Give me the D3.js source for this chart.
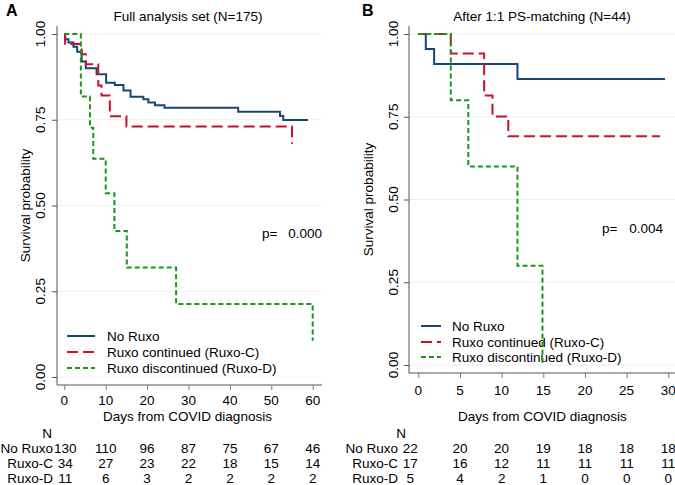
<!DOCTYPE html>
<html><head><meta charset="utf-8">
<script src="https://cdn.jsdelivr.net/npm/d3@7"></script>
<style>
body{margin:0;background:#fff;}
svg text{font-family:"Liberation Sans",Arial,Helvetica,sans-serif;fill:#000;}
</style></head>
<body><svg id="c" width="675" height="485"></svg>
<script>
// ---------- data ----------
const seriesNames = ["No Ruxo", "Ruxo continued (Ruxo-C)", "Ruxo discontinued (Ruxo-D)"];
const riskLabels = ["No Ruxo", "Ruxo-C", "Ruxo-D"];
const yTicks = [0, 0.25, 0.5, 0.75, 1];

// Panel A: Full analysis set
const titleA = "Full analysis set (N=175)";
const xTicksA = [0, 10, 20, 30, 40, 50, 60];
const daysA_noRuxo = [0, 0.2, 1, 2.2, 3.1, 4.2, 5.2, 7.8, 10.1, 12.2, 14.3, 16, 19.1, 20.3, 21.9, 24.2, 42, 52.1, 52.9, 58.9];
const survA_noRuxo = [1, 0.985, 0.975, 0.963, 0.948, 0.92, 0.90, 0.883, 0.858, 0.851, 0.835, 0.817, 0.81, 0.80, 0.792, 0.785, 0.773, 0.761, 0.749, 0.749];
const daysA_ruxoC = [0, 0.2, 4.2, 5.2, 8.2, 9, 11, 15, 55];
const survA_ruxoC = [1, 0.971, 0.941, 0.912, 0.85, 0.821, 0.76, 0.73, 0.68];
const daysA_ruxoD = [0, 4, 6.2, 7, 10, 12.1, 15.1, 27, 60];
const survA_ruxoD = [1, 0.818, 0.727, 0.636, 0.536, 0.426, 0.319, 0.213, 0.106];
const riskA_noRuxo = [130, 110, 96, 87, 75, 67, 46];
const riskA_ruxoC = [34, 27, 23, 22, 18, 15, 14];
const riskA_ruxoD = [11, 6, 3, 2, 2, 2, 2];
const pA = "0.000";

// Panel B: After 1:1 PS-matching
const titleB = "After 1:1 PS-matching (N=44)";
const xTicksB = [0, 5, 10, 15, 20, 25, 30];
const daysB_noRuxo = [0, 0.9, 1.9, 11.9, 29.6];
const survB_noRuxo = [1, 0.955, 0.909, 0.864, 0.864];
const daysB_ruxoC = [0, 3.9, 7.9, 8.9, 10.8, 29];
const survB_ruxoC = [1, 0.941, 0.814, 0.751, 0.691, 0.691];
const daysB_ruxoD = [0, 3.9, 6, 11.9, 14.9];
const survB_ruxoD = [1, 0.8, 0.6, 0.3, 0];
const riskB_noRuxo = [22, 20, 20, 19, 18, 18, 18];
const riskB_ruxoC = [17, 16, 12, 11, 11, 11, 11];
const riskB_ruxoD = [5, 4, 2, 1, 0, 0, 0];
const pB = "0.004";

// ---------- styles ----------
const colors = ["#1a476f", "#c8102e", "#1a961a"];
const dashes = [null, "11,5", "5,3"];
const FS = "13.5px";

const svg = d3.select("#c");

function panel(cfg) {
  const x = d3.scaleLinear().domain([0, cfg.xmax]).range([cfg.x0, cfg.x1]);
  const y = d3.scaleLinear().domain([0, 1]).range([cfg.y0, cfg.y1]);
  const g = svg.append("g");

  // gridlines
  g.selectAll(".grid").data(yTicks).enter().append("line")
    .attr("x1", cfg.axL).attr("x2", cfg.axR)
    .attr("y1", d => y(d)).attr("y2", d => y(d))
    .attr("stroke", "#eeeeee").attr("stroke-width", 1);

  // y axis
  const ya = g.append("g").attr("transform", `translate(${cfg.axL},0)`)
    .call(d3.axisLeft(y).tickValues(yTicks).tickSize(5).tickFormat(""));
  ya.select(".domain").attr("d", `M0,${cfg.axTop}V${cfg.axB}`).attr("stroke", "#555");
  ya.selectAll(".tick line").attr("stroke", "#555");
  g.selectAll(".ylab").data(yTicks).enter().append("text")
    .attr("transform", d => `translate(${cfg.ylabX},${y(d)}) rotate(-90)`)
    .attr("text-anchor", "middle").attr("dy", "0.35em")
    .style("font-size", FS).text(d => d3.format(".2f")(d));
  g.append("text")
    .attr("transform", `translate(${cfg.ytitleX},${(cfg.y0 + cfg.y1) / 2}) rotate(-90)`)
    .attr("text-anchor", "middle").attr("dy", "0.35em")
    .style("font-size", FS).text("Survival probability");

  // x axis
  const xa = g.append("g").attr("transform", `translate(0,${cfg.axB})`)
    .call(d3.axisBottom(x).tickValues(cfg.xTicks).tickSize(5).tickFormat(""));
  xa.select(".domain").attr("d", `M${cfg.axL},0H${cfg.axR}`).attr("stroke", "#555");
  xa.selectAll(".tick line").attr("stroke", "#777");
  g.selectAll(".xlab").data(cfg.xTicks).enter().append("text")
    .attr("x", d => x(d)).attr("y", cfg.xlabY).attr("dy", "0.35em")
    .attr("text-anchor", "middle").style("font-size", FS).text(d => d);
  g.append("text").attr("x", (cfg.x0 + cfg.x1) / 2 - 1).attr("y", 416).attr("dy", "0.35em")
    .attr("text-anchor", "middle").style("font-size", FS).text("Days from COVID diagnosis");

  // titles
  g.append("text").attr("x", cfg.titleX).attr("y", 16).attr("dy", "0.35em")
    .attr("text-anchor", "middle").style("font-size", FS).text(cfg.title);
  g.append("text").attr("x", cfg.letterX).attr("y", 10).attr("dy", "0.35em")
    .style("font-size", "16px").style("font-weight", "bold").text(cfg.letter);

  // legend
  const lg = g.append("g");
  cfg.legendY.forEach((ly, i) => {
    lg.append("line").attr("x1", cfg.legL1).attr("x2", cfg.legL2).attr("y1", ly).attr("y2", ly)
      .attr("stroke", colors[i]).attr("stroke-width", 2).attr("stroke-dasharray", dashes[i]);
    lg.append("text").attr("x", cfg.legT).attr("y", ly).attr("dy", "0.35em")
      .style("font-size", FS).text(seriesNames[i]);
  });

  // curves
  const line = d3.line().x(d => x(d[0])).y(d => y(d[1])).curve(d3.curveStepAfter);
  cfg.curves.forEach((c, i) => {
    const pts = c.days.map((t, k) => [t, c.surv[k]]);
    g.append("path").attr("d", line(pts)).attr("fill", "none")
      .attr("stroke", colors[i]).attr("stroke-width", 2)
      .attr("stroke-dasharray", dashes[i]);
  });

  // p value
  g.append("text").attr("x", cfg.pX1).attr("y", cfg.pY).attr("dy", "0.35em")
    .style("font-size", FS).text("p=");
  g.append("text").attr("x", cfg.pX2).attr("y", cfg.pY).attr("dy", "0.35em")
    .attr("text-anchor", "end").style("font-size", FS).text(cfg.p);

  // risk table
  g.append("text").attr("x", cfg.nX).attr("y", 433).attr("dy", "0.35em")
    .attr("text-anchor", "middle").style("font-size", FS).text("N");
  const rowsY = [448, 463.5, 478.5];
  cfg.risk.forEach((row, i) => {
    g.append("text").attr("x", cfg.rowLabX).attr("y", rowsY[i]).attr("dy", "0.35em")
      .attr("text-anchor", "end").style("font-size", FS).text(riskLabels[i]);
    row.forEach((v, k) => {
      g.append("text").attr("x", x(cfg.xTicks[k]) + (k === 0 ? cfg.firstColShift : 0))
        .attr("y", rowsY[i]).attr("dy", "0.35em")
        .attr("text-anchor", "middle").style("font-size", FS).text(v);
    });
  });
}

panel({
  xmax: 60, x0: 64.3, x1: 312.7, y0: 377, y1: 34,
  axL: 57, axR: 322, axTop: 26, axB: 385,
  ylabX: 40, ytitleX: 25, xTicks: xTicksA, xlabY: 400.5,
  title: titleA, titleX: 188, letter: "A", letterX: 6,
  legendY: [336, 352, 368], legL1: 67, legL2: 95, legT: 107,
  curves: [
    {days: daysA_noRuxo, surv: survA_noRuxo},
    {days: daysA_ruxoC, surv: survA_ruxoC},
    {days: daysA_ruxoD, surv: survA_ruxoD}
  ],
  p: pA, pX1: 262, pX2: 322, pY: 233,
  nX: 47, rowLabX: 53, firstColShift: 1,
  risk: [riskA_noRuxo, riskA_ruxoC, riskA_ruxoD]
});

panel({
  xmax: 30, x0: 418.3, x1: 668.3, y0: 365, y1: 34,
  axL: 409, axR: 675, axTop: 26, axB: 373,
  ylabX: 393, ytitleX: 368, xTicks: xTicksB, xlabY: 390,
  title: titleB, titleX: 542, letter: "B", letterX: 362,
  legendY: [326, 342, 357], legL1: 421, legL2: 441, legT: 452,
  curves: [
    {days: daysB_noRuxo, surv: survB_noRuxo},
    {days: daysB_ruxoC, surv: survB_ruxoC},
    {days: daysB_ruxoD, surv: survB_ruxoD}
  ],
  p: pB, pX1: 602, pX2: 663, pY: 228,
  nX: 401, rowLabX: 398, firstColShift: -8,
  risk: [riskB_noRuxo, riskB_ruxoC, riskB_ruxoD]
});
</script></body></html>
